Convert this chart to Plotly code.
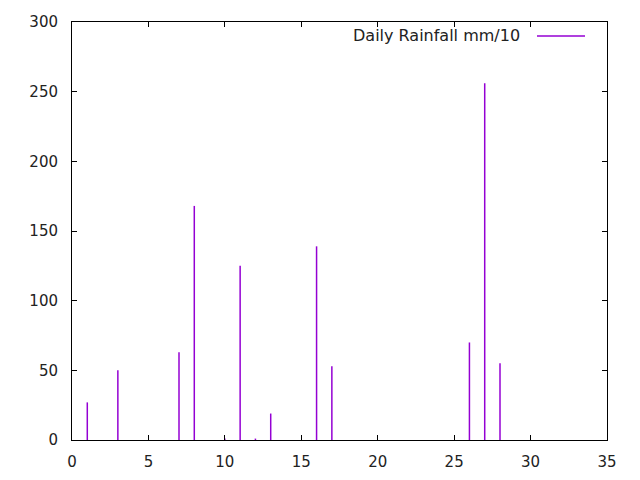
import plotly.graph_objects as go

days = [1, 3, 7, 8, 10, 11, 12, 13, 16, 17, 26, 27, 28]
rain = [27, 50, 63, 168, 1, 125, 1, 19, 139, 53, 70, 256, 55]
series_name = "Daily Rainfall mm/10"

xs, ys = [], []
for d, v in zip(days, rain):
    xs += [d, d, None]
    ys += [0, v, None]

color = "#9400D3"
fig = go.Figure()
fig.add_trace(go.Scatter(x=xs, y=ys, mode="lines", line=dict(color=color, width=1.5),
                         name=series_name, showlegend=False, hoverinfo="skip"))

axis_common = dict(showgrid=False, zeroline=False, showline=True, linecolor="black",
                   linewidth=1, mirror="allticks", ticks="inside", ticklen=5,
                   automargin=False,
                   tickcolor="black", tickfont=dict(family="DejaVu Sans", size=15, color="#222222"))
fig.update_xaxes(range=[0, 35], dtick=5, tick0=0, ticklabelstandoff=8, **axis_common)
fig.update_yaxes(range=[0, 300], dtick=50, tick0=0, ticklabelstandoff=10, **axis_common)

# plot area in page pixels: x 72..607, y 22..440
fig.add_annotation(xref="paper", yref="paper", x=(522 - 72) / 535, y=1 - (36 - 22) / 418,
                   text=series_name, showarrow=False, xanchor="right", yanchor="middle",
                   font=dict(family="DejaVu Sans", size=16, color="#222222"))
fig.add_shape(type="line", xref="paper", yref="paper",
              x0=(537 - 72) / 535, x1=(585 - 72) / 535,
              y0=1 - (36 - 22) / 418, y1=1 - (36 - 22) / 418,
              line=dict(color=color, width=1.5))

fig.update_layout(width=640, height=480, margin=dict(l=64, r=41, t=14, b=48, autoexpand=False),
                  plot_bgcolor="white", paper_bgcolor="white", showlegend=False)
fig.write_html("out.html")
